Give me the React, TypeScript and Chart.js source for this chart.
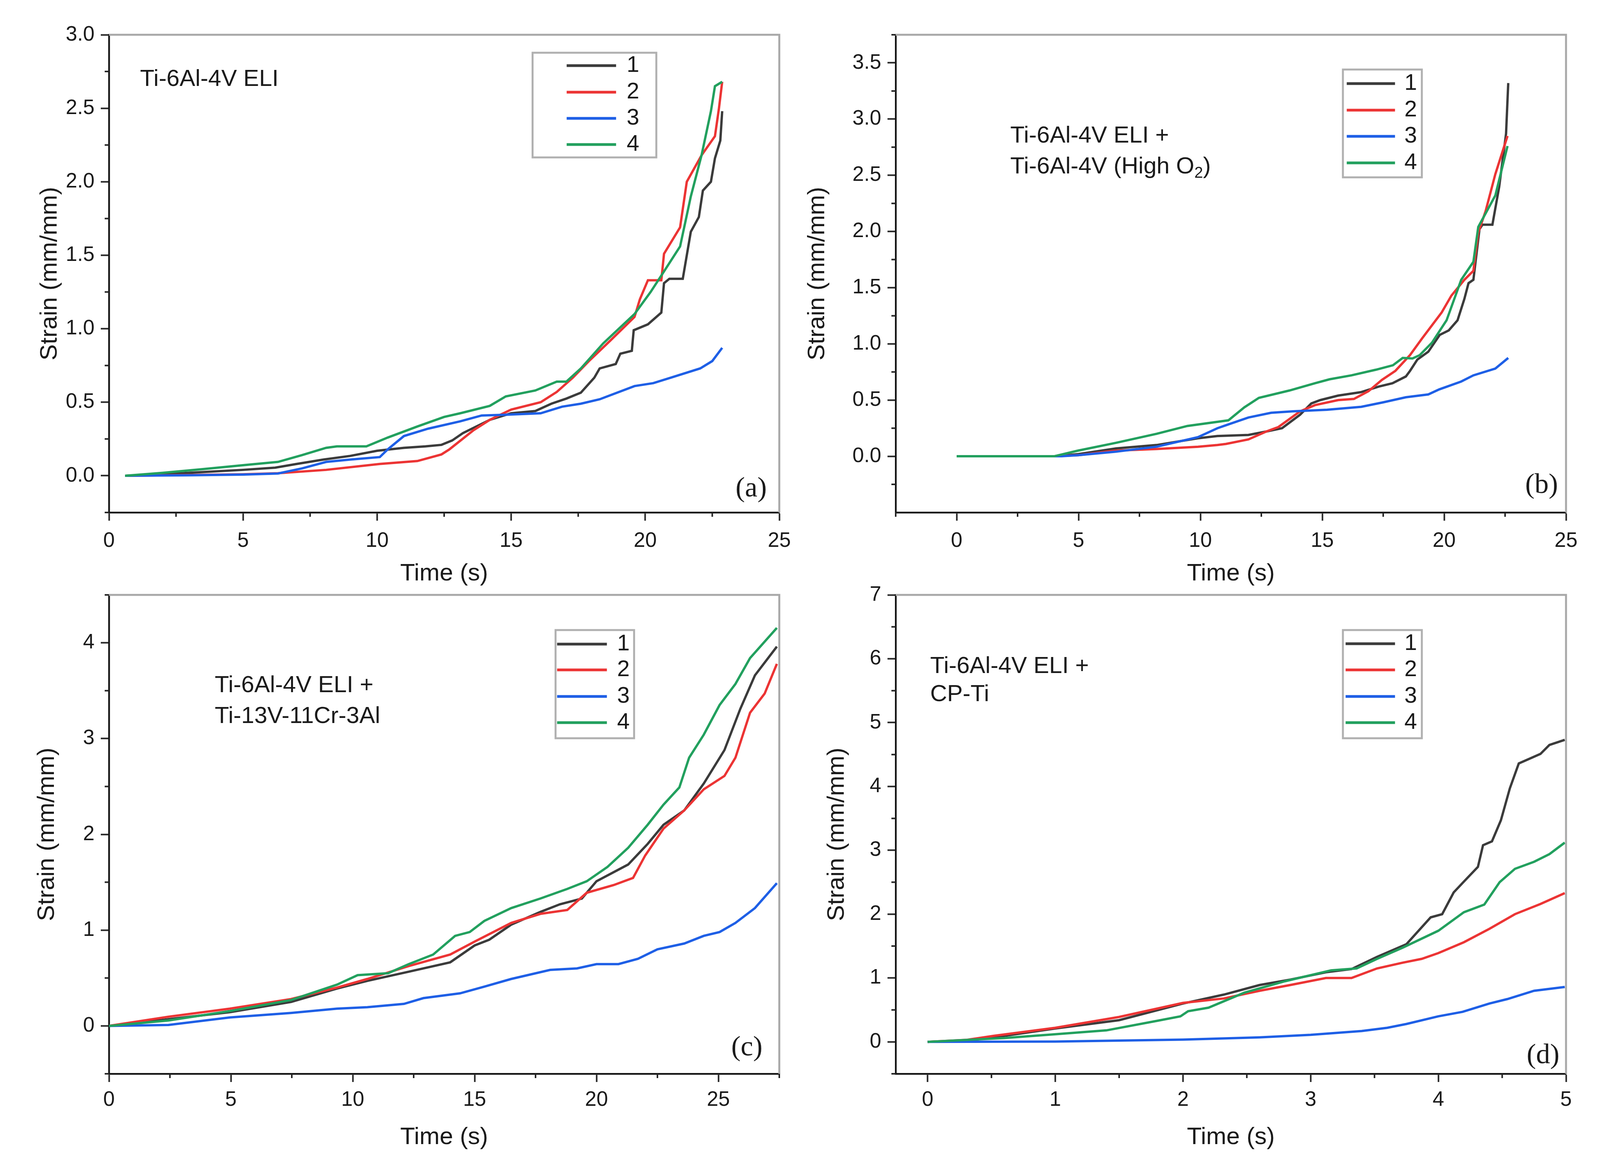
import React, { useEffect, useRef } from 'react';
import { Chart, registerables } from 'chart.js';

Chart.register(...registerables);

type Pt = [number, number];

const FONT = "'Liberation Sans', Arial, Helvetica, sans-serif";
const SERIF = "'Liberation Serif', 'Times New Roman', serif";
Chart.defaults.font.family = FONT;

const SERIES_NAMES = ['1', '2', '3', '4'];
const SERIES_COLORS = ['#3b3b3b', '#ec3434', '#1e5fe6', '#22a05e'];

// ---------- (a) Ti-6Al-4V ELI ----------
const A_S1: Pt[] = [[0.6, 0], [2, 0.01], [3.5, 0.025], [5, 0.04], [6.2, 0.055], [7, 0.08], [8, 0.11], [9, 0.135], [10, 0.17], [11, 0.19], [11.8, 0.2], [12.4, 0.21], [12.8, 0.24], [13.2, 0.29], [13.7, 0.335], [14.2, 0.38], [15, 0.425], [15.9, 0.44], [16.5, 0.49], [17.06, 0.525], [17.6, 0.565], [18.1, 0.667], [18.3, 0.73], [18.9, 0.76], [19.07, 0.83], [19.5, 0.85], [19.57, 0.99], [20.1, 1.03], [20.6, 1.11], [20.7, 1.31], [20.9, 1.34], [21.4, 1.34], [21.55, 1.5], [21.7, 1.66], [22.0, 1.76], [22.15, 1.94], [22.45, 2.0], [22.6, 2.16], [22.8, 2.28], [22.87, 2.48]];
const A_S2: Pt[] = [[0.6, 0], [3, 0.005], [5, 0.01], [6.3, 0.017], [8.1, 0.04], [10.1, 0.08], [11.5, 0.1], [12.4, 0.145], [12.7, 0.18], [13.6, 0.31], [14.2, 0.38], [15, 0.45], [16.1, 0.5], [16.7, 0.57], [17.3, 0.667], [17.9, 0.78], [18.7, 0.92], [19.6, 1.08], [19.8, 1.2], [20.1, 1.33], [20.6, 1.33], [20.7, 1.51], [21.3, 1.69], [21.55, 2.0], [22.1, 2.18], [22.6, 2.31], [22.75, 2.5], [22.87, 2.68]];
const A_S3: Pt[] = [[0.6, 0], [3, 0.003], [5, 0.008], [6.3, 0.015], [7.2, 0.05], [8.1, 0.094], [9, 0.11], [10.1, 0.127], [10.4, 0.18], [11.0, 0.27], [11.9, 0.32], [13.1, 0.37], [13.9, 0.41], [14.8, 0.415], [16.1, 0.425], [16.9, 0.47], [17.6, 0.49], [18.3, 0.52], [19.6, 0.61], [20.3, 0.63], [21.0, 0.67], [22.05, 0.73], [22.5, 0.78], [22.87, 0.87]];
const A_S4: Pt[] = [[0.6, 0], [2, 0.02], [3.5, 0.045], [5.07, 0.073], [6.3, 0.094], [7.2, 0.14], [8.1, 0.19], [8.5, 0.2], [9.6, 0.2], [10.4, 0.26], [11.5, 0.335], [12.5, 0.4], [13.1, 0.425], [14.2, 0.475], [14.8, 0.54], [15.9, 0.58], [16.7, 0.64], [17.06, 0.64], [17.6, 0.73], [18.43, 0.9], [19.6, 1.1], [20.2, 1.25], [20.7, 1.39], [21.3, 1.56], [21.7, 1.9], [22.1, 2.18], [22.45, 2.48], [22.6, 2.65], [22.87, 2.68]];
const A_X_TICKS = [0, 5, 10, 15, 20, 25];
const A_Y_TICKS = [0, 0.5, 1, 1.5, 2, 2.5, 3];

// ---------- (b) Ti-6Al-4V ELI + Ti-6Al-4V (High O2) ----------
const B_S1: Pt[] = [[0, 0], [4, 0], [5, 0.02], [6.54, 0.07], [8.2, 0.1], [9.9, 0.16], [10.7, 0.18], [11.97, 0.19], [12.7, 0.22], [13.35, 0.25], [14.09, 0.37], [14.55, 0.47], [14.92, 0.5], [15.65, 0.54], [16.58, 0.57], [17.32, 0.62], [17.88, 0.65], [18.43, 0.71], [18.6, 0.76], [18.9, 0.86], [19.35, 0.93], [19.82, 1.08], [20.19, 1.12], [20.55, 1.21], [20.83, 1.4], [21.0, 1.54], [21.2, 1.57], [21.45, 2.02], [21.57, 2.06], [21.98, 2.06], [22.26, 2.4], [22.54, 2.87], [22.63, 3.32]];
const B_S2: Pt[] = [[0, 0], [4, 0], [5, 0.01], [6.5, 0.05], [8.2, 0.065], [9.9, 0.085], [10.7, 0.1], [11.05, 0.11], [11.97, 0.15], [12.7, 0.22], [13.2, 0.26], [14.09, 0.4], [14.7, 0.455], [15.65, 0.5], [16.3, 0.51], [16.9, 0.58], [17.45, 0.68], [18.0, 0.76], [18.6, 0.9], [19.1, 1.05], [19.9, 1.28], [20.3, 1.43], [20.83, 1.57], [21.2, 1.65], [21.4, 1.99], [21.7, 2.18], [22.1, 2.51], [22.6, 2.85]];
const B_S3: Pt[] = [[0, 0], [4.3, 0], [5, 0.01], [6.5, 0.04], [8.2, 0.085], [9.9, 0.17], [10.7, 0.25], [11.05, 0.276], [11.97, 0.345], [12.9, 0.387], [13.8, 0.4], [15.2, 0.414], [16.6, 0.44], [17.5, 0.48], [18.43, 0.525], [19.35, 0.55], [19.8, 0.595], [20.7, 0.665], [21.2, 0.72], [22.1, 0.78], [22.63, 0.875]];
const B_S4: Pt[] = [[0, 0], [4, 0], [4.97, 0.05], [6.54, 0.12], [8.2, 0.2], [9.47, 0.27], [11.15, 0.32], [11.8, 0.435], [12.4, 0.52], [13.65, 0.585], [14.7, 0.65], [15.3, 0.685], [16.2, 0.72], [17.2, 0.77], [17.9, 0.81], [18.3, 0.875], [18.7, 0.87], [19.0, 0.9], [19.5, 1.01], [20.1, 1.21], [20.7, 1.57], [21.2, 1.73], [21.4, 2.04], [22.1, 2.32], [22.6, 2.76]];
const B_X_TICKS = [0, 5, 10, 15, 20, 25];
const B_Y_TICKS = [0, 0.5, 1, 1.5, 2, 2.5, 3, 3.5];

// ---------- (c) Ti-6Al-4V ELI + Ti-13V-11Cr-3Al ----------
const C_S1: Pt[] = [[0, 0], [2.44, 0.07], [4.96, 0.143], [7.47, 0.25], [9.35, 0.39], [10.6, 0.47], [12.3, 0.566], [14.0, 0.664], [15.0, 0.84], [15.6, 0.9], [16.5, 1.057], [17.7, 1.19], [18.5, 1.27], [19.4, 1.33], [20.0, 1.51], [21.3, 1.685], [22.1, 1.9], [22.75, 2.1], [23.6, 2.25], [24.4, 2.53], [25.25, 2.88], [25.9, 3.31], [26.5, 3.66], [27.4, 3.96]];
const C_S2: Pt[] = [[0, 0], [2.44, 0.096], [4.96, 0.18], [7.47, 0.28], [9.35, 0.4], [10.6, 0.49], [12.3, 0.625], [14.0, 0.745], [15.0, 0.88], [16.5, 1.075], [17.7, 1.17], [18.8, 1.21], [19.6, 1.39], [20.7, 1.47], [21.5, 1.545], [22.0, 1.78], [22.75, 2.06], [23.6, 2.25], [24.4, 2.47], [25.25, 2.61], [25.7, 2.8], [26.3, 3.27], [26.9, 3.47], [27.4, 3.78]];
const C_S3: Pt[] = [[0, 0], [2.44, 0.01], [4.96, 0.088], [7.47, 0.135], [9.35, 0.18], [10.6, 0.195], [12.1, 0.23], [12.9, 0.29], [14.4, 0.34], [15.4, 0.41], [16.5, 0.49], [18.1, 0.585], [19.2, 0.6], [20.0, 0.645], [20.9, 0.645], [21.7, 0.7], [22.5, 0.8], [23.6, 0.86], [24.4, 0.94], [25.05, 0.98], [25.7, 1.075], [26.5, 1.23], [27.4, 1.49]];
const C_S4: Pt[] = [[0, 0], [2.44, 0.057], [4.96, 0.155], [7.47, 0.27], [9.35, 0.43], [10.2, 0.53], [11.45, 0.55], [12.3, 0.645], [13.3, 0.745], [14.2, 0.94], [14.8, 0.98], [15.4, 1.096], [16.5, 1.23], [17.7, 1.33], [18.8, 1.43], [19.6, 1.51], [20.45, 1.66], [21.3, 1.86], [22.1, 2.1], [22.75, 2.31], [23.4, 2.49], [23.8, 2.8], [24.4, 3.04], [25.05, 3.35], [25.7, 3.57], [26.3, 3.84], [27.4, 4.155]];
const C_X_TICKS = [0, 5, 10, 15, 20, 25];
const C_Y_TICKS = [0, 1, 2, 3, 4];

// ---------- (d) Ti-6Al-4V ELI + CP-Ti ----------
const D_S1: Pt[] = [[0, 0], [0.3, 0.02], [0.52, 0.07], [1.0, 0.21], [1.5, 0.34], [2.0, 0.6], [2.32, 0.74], [2.6, 0.89], [2.84, 0.975], [3.12, 1.09], [3.32, 1.14], [3.52, 1.33], [3.75, 1.53], [3.94, 1.95], [4.03, 2.0], [4.12, 2.34], [4.2, 2.51], [4.31, 2.74], [4.35, 3.08], [4.42, 3.14], [4.49, 3.47], [4.56, 3.97], [4.63, 4.36], [4.71, 4.43], [4.8, 4.51], [4.87, 4.65], [4.99, 4.73]];
const D_S2: Pt[] = [[0, 0], [0.3, 0.03], [0.52, 0.095], [1.0, 0.22], [1.5, 0.39], [2.0, 0.61], [2.32, 0.68], [2.6, 0.8], [2.84, 0.89], [3.12, 1.0], [3.32, 1.0], [3.52, 1.15], [3.72, 1.24], [3.87, 1.3], [4.0, 1.39], [4.2, 1.56], [4.4, 1.77], [4.6, 2.0], [4.8, 2.16], [4.99, 2.33]];
const D_S3: Pt[] = [[0, 0], [1, 0.005], [2.0, 0.035], [2.6, 0.07], [3.0, 0.11], [3.4, 0.17], [3.6, 0.22], [3.75, 0.28], [4.0, 0.4], [4.19, 0.47], [4.4, 0.6], [4.54, 0.67], [4.75, 0.8], [4.99, 0.86]];
const D_S4: Pt[] = [[0, 0], [0.6, 0.06], [1.0, 0.12], [1.4, 0.18], [1.8, 0.33], [1.98, 0.4], [2.04, 0.48], [2.2, 0.535], [2.48, 0.77], [2.8, 0.95], [3.16, 1.12], [3.36, 1.15], [3.52, 1.3], [3.72, 1.475], [4.0, 1.74], [4.2, 2.03], [4.36, 2.15], [4.48, 2.5], [4.6, 2.71], [4.75, 2.82], [4.87, 2.94], [4.99, 3.12]];
const D_X_TICKS = [0, 1, 2, 3, 4, 5];
const D_Y_TICKS = [0, 1, 2, 3, 4, 5, 6, 7];

const X_TITLE = 'Time (s)';
const Y_TITLE = 'Strain (mm/mm)';

// Layout is laid out for a 4176 px wide page; it is squeezed horizontally to the real viewport width.
const DESIGN_W = 4176;
const DESIGN_H = 3003;
const VIEW_W = typeof window !== 'undefined' && window.innerWidth > 0 ? window.innerWidth : DESIGN_W;
const SX = Math.max(0.85, Math.min(1.15, VIEW_W / DESIGN_W));
const sx = (v: number) => v * SX;

interface NoteSeg { text: string; sub?: boolean }
interface Panel {
  key: string;
  box: { left: number; top: number; width: number; height: number };
  plot: { left: number; top: number; right: number; bottom: number };
  xRange: [number, number];
  yRange: [number, number];
  xTicks: number[];
  yTicks: number[];
  yDecimals: number;
  series: Pt[][];
  notes: { x: number; y: number; segs: NoteSeg[] }[];
  tag: { text: string; x: number; y: number };
  legend: { box: [number, number, number, number]; line: [number, number]; textX: number; rows: number[] };
  yTitlePad: number;
  xTitlePad: number;
  xTickPad: number;
}

const PANELS: Panel[] = [
  {
    key: 'a',
    box: { left: 0, top: 0, width: 2088, height: 1520 },
    plot: { left: 284, top: 89, right: 2034, bottom: 1312 },
    xRange: [0, 25], yRange: [-0.25, 3],
    xTicks: A_X_TICKS, yTicks: A_Y_TICKS, yDecimals: 1,
    series: [A_S1, A_S2, A_S3, A_S4],
    notes: [{ x: 1.16, y: 2.697, segs: [{ text: 'Ti-6Al-4V ELI' }] }],
    tag: { text: '(a)', x: 23.95, y: -0.09 },
    legend: { box: [1390, 135, 323, 268], line: [1479, 1608], textX: 1652, rows: [168, 236, 303, 370] },
    yTitlePad: 92, xTitlePad: 14, xTickPad: 21,
  },
  {
    key: 'b',
    box: { left: 2088, top: 0, width: 2088, height: 1520 },
    plot: { left: 2338, top: 89, right: 4087, bottom: 1312 },
    xRange: [-2.5, 25], yRange: [-0.5, 3.75],
    xTicks: B_X_TICKS, yTicks: B_Y_TICKS, yDecimals: 1,
    series: [B_S1, B_S2, B_S3, B_S4],
    notes: [
      { x: 2.2, y: 2.85, segs: [{ text: 'Ti-6Al-4V ELI +' }] },
      { x: 2.2, y: 2.575, segs: [{ text: 'Ti-6Al-4V (High O' }, { text: '2', sub: true }, { text: ')' }] },
    ],
    tag: { text: '(b)', x: 24.0, y: -0.26 },
    legend: { box: [3505, 178, 206, 276], line: [3515, 3641], textX: 3682, rows: [214, 282, 349, 417] },
    yTitlePad: 8, xTitlePad: 14, xTickPad: 21,
  },
  {
    key: 'c',
    box: { left: 0, top: 1443, width: 2088, height: 1560 },
    plot: { left: 284, top: 1523, right: 2034, bottom: 2749 },
    xRange: [0, 27.5], yRange: [-0.5, 4.5],
    xTicks: C_X_TICKS, yTicks: C_Y_TICKS, yDecimals: 0,
    series: [C_S1, C_S2, C_S3, C_S4],
    notes: [
      { x: 4.34, y: 3.55, segs: [{ text: 'Ti-6Al-4V ELI +' }] },
      { x: 4.34, y: 3.23, segs: [{ text: 'Ti-13V-11Cr-3Al' }] },
    ],
    tag: { text: '(c)', x: 26.17, y: -0.23 },
    legend: { box: [1450, 1613, 205, 277], line: [1454, 1584], textX: 1627, rows: [1649, 1715, 1783, 1850] },
    yTitlePad: 85, xTitlePad: 54, xTickPad: 15,
  },
  {
    key: 'd',
    box: { left: 2088, top: 1443, width: 2088, height: 1560 },
    plot: { left: 2338, top: 1523, right: 4087, bottom: 2749 },
    xRange: [-0.25, 5], yRange: [-0.5, 7],
    xTicks: D_X_TICKS, yTicks: D_Y_TICKS, yDecimals: 0,
    series: [D_S1, D_S2, D_S3, D_S4],
    notes: [
      { x: 0.02, y: 5.88, segs: [{ text: 'Ti-6Al-4V ELI +' }] },
      { x: 0.02, y: 5.44, segs: [{ text: 'CP-Ti' }] },
    ],
    tag: { text: '(d)', x: 4.82, y: -0.22 },
    legend: { box: [3505, 1613, 206, 277], line: [3512, 3641], textX: 3682, rows: [1648, 1715, 1783, 1850] },
    yTitlePad: 59, xTitlePad: 54, xTickPad: 15,
  },
];

const TEXT_COLOR = '#1a1a1a';
const AXIS_COLOR = '#161616';
const TICK_COLOR = '#262626';
const FRAME_COLOR = '#a8a8a8';
const LEGEND_BORDER = '#b0b0b0';
const MAJOR_LEN = 21;
const MINOR_LEN = 11;
const TICK_FONT = 53;
const TITLE_FONT = 62;
const NOTE_FONT = 60;
const LEGEND_FONT = 58;
const TAG_FONT = 72;
const SERIES_WIDTH = 6;

function minorValues(majors: number[], range: [number, number]): number[] {
  const half = (majors[1] - majors[0]) / 2;
  const out: number[] = [];
  let v = majors[0] - half;
  while (v - 2 * half >= range[0] - 1e-9) v -= 2 * half;
  for (; v <= range[1] + 1e-9; v += 2 * half) {
    if (v >= range[0] - 1e-9) out.push(v);
  }
  return out;
}

interface Geo { left: number; top: number; width: number; height: number; pl: number; pt: number; pr: number; pb: number }

function geometry(p: Panel): Geo {
  const left = Math.round(sx(p.box.left));
  const right = Math.round(sx(p.box.left + p.box.width));
  return {
    left,
    top: p.box.top,
    width: right - left,
    height: p.box.height,
    pl: Math.round(sx(p.plot.left)),
    pt: p.plot.top,
    pr: Math.round(sx(p.plot.right)),
    pb: p.plot.bottom,
  };
}

function makeDecor(p: Panel, g: Geo) {
  return {
    id: 'decor' + p.key,
    afterDraw(chart: any) {
      const { ctx, chartArea: ca } = chart;
      const xs = chart.scales.x;
      const ys = chart.scales.y;
      const ox = g.left;
      const oy = g.top;
      ctx.save();
      // grey top/right frame
      ctx.strokeStyle = FRAME_COLOR;
      ctx.lineWidth = 5;
      ctx.beginPath();
      ctx.moveTo(ca.left, ca.top);
      ctx.lineTo(ca.right, ca.top);
      ctx.lineTo(ca.right, ca.bottom);
      ctx.stroke();
      // minor ticks
      ctx.strokeStyle = TICK_COLOR;
      ctx.lineWidth = 4;
      ctx.beginPath();
      for (const v of minorValues(p.xTicks, p.xRange)) {
        const px = xs.getPixelForValue(v);
        ctx.moveTo(px, ca.bottom);
        ctx.lineTo(px, ca.bottom + MINOR_LEN);
      }
      for (const v of minorValues(p.yTicks, p.yRange)) {
        const py = ys.getPixelForValue(v);
        ctx.moveTo(ca.left, py);
        ctx.lineTo(ca.left - MINOR_LEN, py);
      }
      ctx.stroke();
      // material notes
      ctx.fillStyle = TEXT_COLOR;
      ctx.textAlign = 'left';
      ctx.textBaseline = 'middle';
      for (const n of p.notes) {
        let x = xs.getPixelForValue(n.x);
        const y = ys.getPixelForValue(n.y);
        for (const s of n.segs) {
          if (s.sub) {
            ctx.font = `${Math.round(NOTE_FONT * 0.66)}px ${FONT}`;
            ctx.fillText(s.text, x, y + NOTE_FONT * 0.28);
          } else {
            ctx.font = `${NOTE_FONT}px ${FONT}`;
            ctx.fillText(s.text, x, y);
          }
          x += ctx.measureText(s.text).width;
        }
      }
      // panel tag
      ctx.font = `${TAG_FONT}px ${SERIF}`;
      ctx.textAlign = 'center';
      ctx.fillText(p.tag.text, xs.getPixelForValue(p.tag.x), ys.getPixelForValue(p.tag.y));
      // legend
      const L = p.legend;
      const bx = sx(L.box[0]) - ox;
      const by = L.box[1] - oy;
      const bw = sx(L.box[2]);
      const bh = L.box[3];
      ctx.fillStyle = '#ffffff';
      ctx.fillRect(bx, by, bw, bh);
      ctx.strokeStyle = LEGEND_BORDER;
      ctx.lineWidth = 5;
      ctx.strokeRect(bx, by, bw, bh);
      chart.data.datasets.forEach((ds: any, i: number) => {
        const y = L.rows[i] - oy;
        ctx.strokeStyle = ds.borderColor;
        ctx.lineWidth = 7;
        ctx.beginPath();
        ctx.moveTo(sx(L.line[0]) - ox, y);
        ctx.lineTo(sx(L.line[1]) - ox, y);
        ctx.stroke();
        ctx.fillStyle = TEXT_COLOR;
        ctx.font = `${LEGEND_FONT}px ${FONT}`;
        ctx.textAlign = 'center';
        ctx.textBaseline = 'middle';
        ctx.fillText(ds.label, sx(L.textX) - ox, y);
      });
      ctx.restore();
    },
  };
}

function buildConfig(p: Panel, g: Geo) {
  const yAxisW = g.pl - g.left;
  const xAxisH = g.top + g.height - g.pb;
  const grid = {
    drawOnChartArea: false,
    drawTicks: true,
    tickLength: MAJOR_LEN,
    tickWidth: 4,
    tickColor: TICK_COLOR,
  };
  const border = { display: true, color: AXIS_COLOR, width: 4.5 };
  return {
    type: 'line',
    data: {
      datasets: p.series.map((pts, i) => ({
        label: SERIES_NAMES[i],
        data: pts.map(([x, y]) => ({ x, y })),
        borderColor: SERIES_COLORS[i],
        backgroundColor: SERIES_COLORS[i],
        borderWidth: SERIES_WIDTH,
        pointRadius: 0,
        tension: 0,
        fill: false,
        order: 3 - i,
      })),
    },
    options: {
      animation: false,
      responsive: false,
      maintainAspectRatio: false,
      events: [],
      layout: {
        padding: {
          left: 0,
          top: g.pt - g.top,
          right: g.left + g.width - g.pr,
          bottom: 0,
        },
      },
      plugins: {
        legend: { display: false },
        tooltip: { enabled: false },
        title: { display: false },
      },
      scales: {
        x: {
          type: 'linear',
          position: 'bottom',
          min: p.xRange[0],
          max: p.xRange[1],
          afterBuildTicks: (s: any) => {
            s.ticks = p.xTicks.map((v) => ({ value: v }));
          },
          afterFit: (s: any) => {
            s.height = xAxisH;
          },
          ticks: {
            autoSkip: false,
            maxRotation: 0,
            minRotation: 0,
            padding: p.xTickPad,
            color: TEXT_COLOR,
            font: { size: TICK_FONT, family: FONT },
            callback: (v: any) => String(v),
          },
          grid,
          border,
          title: {
            display: true,
            text: X_TITLE,
            color: TEXT_COLOR,
            font: { size: TITLE_FONT, family: FONT },
            padding: { top: 0, bottom: p.xTitlePad },
          },
        },
        y: {
          type: 'linear',
          position: 'left',
          min: p.yRange[0],
          max: p.yRange[1],
          afterBuildTicks: (s: any) => {
            s.ticks = p.yTicks.map((v) => ({ value: v }));
          },
          afterFit: (s: any) => {
            s.width = yAxisW;
          },
          ticks: {
            autoSkip: false,
            padding: 16,
            color: TEXT_COLOR,
            font: { size: TICK_FONT, family: FONT },
            callback: (v: any) => Number(v).toFixed(p.yDecimals),
          },
          grid,
          border,
          title: {
            display: true,
            text: Y_TITLE,
            color: TEXT_COLOR,
            font: { size: TITLE_FONT, family: FONT },
            padding: { top: sx(p.yTitlePad), bottom: 0 },
          },
        },
      },
    },
    plugins: [makeDecor(p, g)],
  };
}

function PanelChart({ p }: { p: Panel }) {
  const ref = useRef<HTMLCanvasElement | null>(null);
  const g = geometry(p);
  useEffect(() => {
    const canvas = ref.current;
    if (!canvas) return;
    const chart = new Chart(canvas, buildConfig(p, geometry(p)) as any);
    return () => {
      chart.destroy();
    };
  }, [p]);
  return (
    <canvas
      ref={ref}
      width={g.width}
      height={g.height}
      style={{
        position: 'absolute',
        left: g.left,
        top: g.top,
        width: g.width,
        height: g.height,
      }}
    />
  );
}

export default function App() {
  return (
    <div
      style={{
        position: 'absolute',
        left: 0,
        top: 0,
        width: Math.round(sx(DESIGN_W)),
        height: DESIGN_H,
        background: '#ffffff',
        overflow: 'hidden',
      }}
    >
      {PANELS.map((p) => (
        <PanelChart key={p.key} p={p} />
      ))}
    </div>
  );
}
